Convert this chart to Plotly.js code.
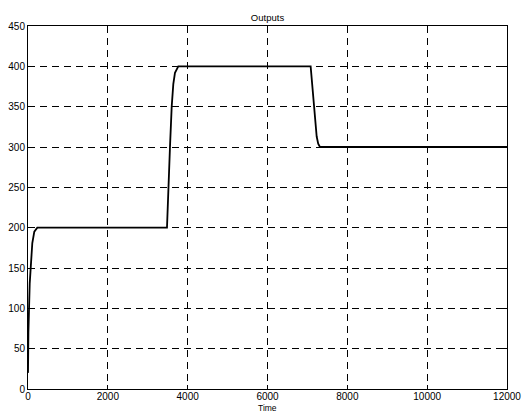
<!DOCTYPE html>
<html>
<head>
<meta charset="utf-8">
<script src="https://cdn.plot.ly/plotly-3.0.1.min.js"></script>
<style>html,body{margin:0;padding:0;background:#fff;}#chart{width:522px;height:412px;}</style>
</head>
<body>
<div id="chart"></div>
<script>
// Data
const timeValues = [0, 10, 43, 68, 108, 158, 233, 3482, 3515, 3557, 3600, 3640, 3682, 3765, 7081, 7110, 7172, 7232, 7270, 7315, 12000];
const outputValues = [20, 70, 131, 151, 181, 195, 200, 200, 250, 300, 350, 378, 392, 400, 400, 385, 350, 313, 304, 300, 300];
const xTickValues = [0, 2000, 4000, 6000, 8000, 10000, 12000];
const yTickValues = [0, 50, 100, 150, 200, 250, 300, 350, 400, 450];

const trace = {
  x: timeValues,
  y: outputValues,
  type: 'scatter',
  mode: 'lines',
  line: {color: '#000', width: 1.8},
  hoverinfo: 'skip'
};

const fontFam = 'Liberation Sans, Arial, sans-serif';

const axisCommon = {
  showline: true,
  linecolor: '#000',
  linewidth: 1,
  mirror: 'ticks',
  ticks: 'inside',
  ticklen: 4,
  tickcolor: '#000',
  showgrid: true,
  gridcolor: '#000',
  gridwidth: 1,
  griddash: '7px,5px',
  zeroline: false,
  tickfont: {family: fontFam, size: 10, color: '#000'}
};

const layout = {
  width: 522,
  height: 412,
  margin: {l: 28, r: 15, t: 26, b: 23},
  paper_bgcolor: '#fff',
  plot_bgcolor: '#fff',
  showlegend: false,
  title: {
    text: 'Outputs',
    font: {family: fontFam, size: 9.5, color: '#000'},
    x: 0.5, xanchor: 'center', xref: 'paper',
    y: 1, yref: 'paper', yanchor: 'bottom', pad: {b: 5}
  },
  xaxis: Object.assign({}, axisCommon, {
    range: [0, 12000],
    tickvals: xTickValues,
    ticktext: xTickValues.map(String),
    ticklabelstandoff: -2
  }),
  yaxis: Object.assign({}, axisCommon, {
    range: [0, 450],
    tickvals: yTickValues,
    ticktext: yTickValues.map(String)
  }),
  annotations: [{
    text: 'Time',
    xref: 'paper', yref: 'paper',
    x: 0.5, y: 0,
    xanchor: 'center', yanchor: 'top',
    yshift: -13,
    showarrow: false,
    borderpad: 0,
    font: {family: fontFam, size: 8.5, color: '#000'}
  }]
};

Plotly.newPlot('chart', [trace], layout, {displayModeBar: false, staticPlot: true});
</script>
</body>
</html>
